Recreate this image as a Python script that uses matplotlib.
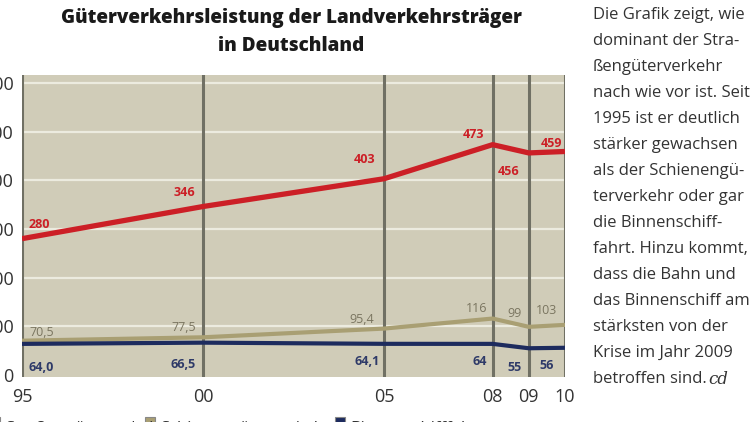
import matplotlib
matplotlib.use("Agg")
import matplotlib.pyplot as plt
from matplotlib.patches import Rectangle

# data (Mrd. tkm)
years = [1995, 2000, 2005, 2008, 2009, 2010]
year_labels = ["95", "00", "05", "08", "09", "10"]
strasse = [280, 346, 403, 473, 456, 459]
schiene = [70.5, 77.5, 95.4, 116, 99, 103]
binnen = [64.0, 66.5, 64.1, 64, 55, 56]
strasse_labels = ["280", "346", "403", "473", "456", "459"]
schiene_labels = ["70,5", "77,5", "95,4", "116", "99", "103"]
binnen_labels = ["64,0", "66,5", "64,1", "64", "55", "56"]
y_ticks = [0, 100, 200, 300, 400, 500, 600]
legend_names = ["Straßengüterverkehr", "Schienengüterverkehr", "Binnenschifffahrt"]

text_lines = [
    "Die Grafik zeigt, wie",
    "dominant der Stra-",
    "ßengüterverkehr",
    "nach wie vor ist. Seit",
    "1995 ist er deutlich",
    "stärker gewachsen",
    "als der Schienengü-",
    "terverkehr oder gar",
    "die Binnenschiff-",
    "fahrt. Hinzu kommt,",
    "dass die Bahn und",
    "das Binnenschiff am",
    "stärksten von der",
    "Krise im Jahr 2009",
    "betroffen sind.",
]

red = "#cc1f26"
tan = "#a99f73"
navy = "#1d2b5e"
bg = "#d0ccb8"
vline = "#707064"

plt.rcParams["font.family"] = ["Open Sans", "DejaVu Sans"]

fig = plt.figure(figsize=(7.5, 4.22), dpi=100)
ax = fig.add_axes([22 / 750, 45 / 422, 543 / 750, 302 / 422])
ax.set_facecolor(bg)
ax.set_xlim(1995, 2010)
ax.set_ylim(-4, 616)

for t in y_ticks[1:]:
    ax.axhline(t, color="#ecebdf", lw=1.6, zorder=1)
for yr in years:
    ax.axvline(yr, color=vline, lw=2.2, zorder=2)

ax.plot(years, schiene, color=tan, lw=3, zorder=3, solid_capstyle="butt")
ax.plot(years, binnen, color=navy, lw=3, zorder=4, solid_capstyle="butt")
ax.plot(years, strasse, color=red, lw=3.8, zorder=5, solid_capstyle="butt")

# label offsets in pixels (dx, dy)
red_off = [(17, 14), (-19, 14), (-19, 19), (-19, 10), (-20, -19), (-14, 8)]
tan_off = [(20, 8), (-19, 10), (-22, 9), (-16, 10), (-14, 13), (-18, 14)]
navy_off = [(19, -24), (-20, -22), (-17, -18), (-13, -18), (-14, -19), (-18, -18)]

for x, v, s, o in zip(years, strasse, strasse_labels, red_off):
    ax.annotate(s, (x, v), xytext=o, textcoords="offset pixels", ha="center",
                va="center", fontsize=9, fontweight="bold", color=red, zorder=6)
for x, v, s, o in zip(years, schiene, schiene_labels, tan_off):
    ax.annotate(s, (x, v), xytext=o, textcoords="offset pixels", ha="center",
                va="center", fontsize=9, color="#7a7560", zorder=6)
for x, v, s, o in zip(years, binnen, binnen_labels, navy_off):
    ax.annotate(s, (x, v), xytext=o, textcoords="offset pixels", ha="center",
                va="center", fontsize=9, fontweight="bold", color="#2e3a68", zorder=6)

ax.set_xticks(years)
ax.set_xticklabels(year_labels)
ax.set_yticks(y_ticks)
ax.tick_params(length=0, labelsize=13, colors="#333333")
ax.tick_params(axis="x", pad=8)
ax.tick_params(axis="y", pad=6)
for sp in ax.spines.values():
    sp.set_visible(False)

fig.text(291 / 750, 1 - 18 / 422, "Güterverkehrsleistung der Landverkehrsträger",
         ha="center", va="center", fontsize=13.6, fontweight="heavy", color="#1a1a1a")
fig.text(291 / 750, 1 - 46 / 422, "in Deutschland",
         ha="center", va="center", fontsize=13.6, fontweight="heavy", color="#1a1a1a")

# side text
for i, line in enumerate(text_lines):
    fig.text(593 / 750, 1 - (15 + i * 26) / 422, line, ha="left", va="center",
             fontsize=12, color="#333333")
fig.text(708 / 750, 1 - (15 + 14 * 26) / 422, "cd", ha="left", va="center",
         fontsize=12, style="italic", family="DejaVu Serif", color="#333333")

# legend at the bottom edge (mostly cut off)
leg_x = [-10, 145, 335]
leg_col = [red, tan, navy]
for lx, c, name in zip(leg_x, leg_col, legend_names):
    fig.patches.append(Rectangle((lx / 750, -0.02), 10 / 750, 0.033,
                                 transform=fig.transFigure, facecolor=c,
                                 edgecolor="#888888", lw=0.8))
    fig.text((lx + 15) / 750, 1 / 422, name, ha="left", va="top",
             fontsize=12, color="#333333")

fig.savefig("out.png", dpi=100)
